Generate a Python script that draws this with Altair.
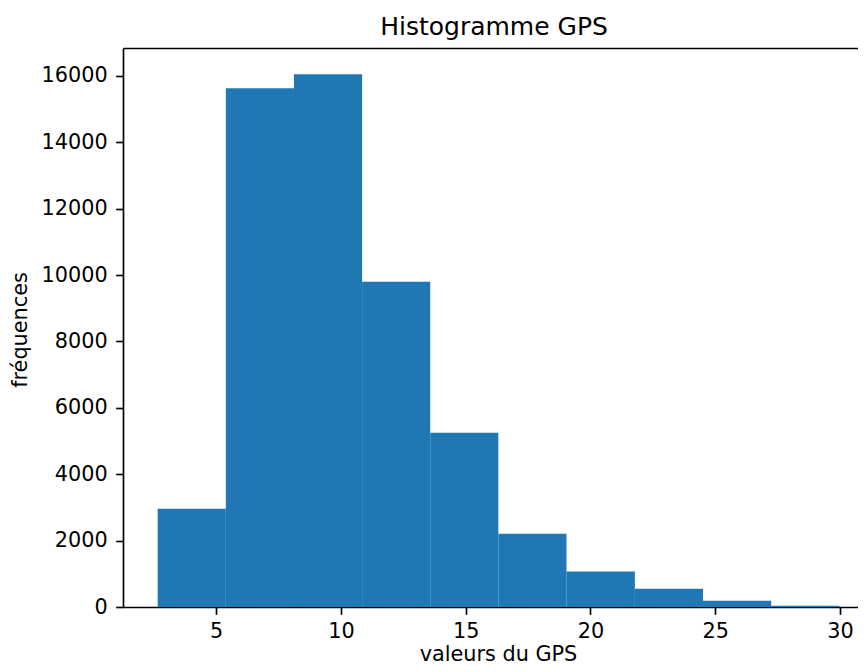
import altair as alt
import pandas as pd

bin_start = [2.66, 5.39, 8.12, 10.85, 13.58, 16.31, 19.04, 21.78, 24.51, 27.24]
bin_end = [5.39, 8.12, 10.85, 13.58, 16.31, 19.04, 21.78, 24.51, 27.24, 29.97]
counts = [2961, 15631, 16052, 9801, 5248, 2207, 1073, 552, 191, 40]

x_ticks = [5, 10, 15, 20, 25, 30]
y_ticks = [0, 2000, 4000, 6000, 8000, 10000, 12000, 14000, 16000]

df = pd.DataFrame({"start": bin_start, "end": bin_end, "count": counts})

FONT = "DejaVu Sans"
W, H = 735, 559
LW = 1.67

x_scale = alt.Scale(domain=[1.27, 30.72], nice=False, zero=False)
y_scale = alt.Scale(domain=[0, 16843], nice=False)

bars = alt.Chart(df).mark_rect(color="#1f77b4").encode(
    x=alt.X("start:Q", scale=x_scale,
            axis=alt.Axis(orient="bottom", values=x_ticks, format="d",
                          tickSize=7.3, tickWidth=LW, tickColor="black",
                          domainWidth=LW, domainColor="black",
                          labelFontSize=20.8, labelFont=FONT, labelColor="black",
                          labelPadding=7.5, grid=False,
                          title="valeurs du GPS", titleFont=FONT, titleFontSize=20.8,
                          titleFontWeight="normal", titleColor="black",
                          titleX=375, titleY=53, titleAlign="center",
                          titleBaseline="alphabetic")),
    x2="end:Q",
    y=alt.Y("count:Q", scale=y_scale,
            axis=alt.Axis(orient="left", values=y_ticks, format="d",
                          tickSize=7.3, tickWidth=LW, tickColor="black",
                          domainWidth=LW, domainColor="black",
                          labelFontSize=20.8, labelFont=FONT, labelColor="black",
                          labelPadding=8.5, grid=False,
                          title="fréquences", titleFont=FONT, titleFontSize=20.8,
                          titleFontWeight="normal", titleColor="black",
                          titleX=-97, titleY=H / 2 + 2, titleAngle=270,
                          titleAlign="center", titleBaseline="alphabetic")),
    y2=alt.datum(0),
)

top = alt.Chart(df).mark_rect(opacity=0).encode(
    x=alt.X("start:Q", scale=x_scale,
            axis=alt.Axis(orient="top", labels=False, ticks=False, title=None,
                          domainWidth=LW, domainColor="black", grid=False)),
    x2="end:Q",
    y=alt.Y("count:Q", scale=y_scale, axis=None),
    y2=alt.datum(0),
)

chart = alt.layer(bars, top).resolve_axis(x="independent", y="independent").properties(
    width=W,
    height=H,
    autosize=alt.AutoSizeParams(type="none"),
    padding={"left": 115, "top": 40, "right": 0, "bottom": 57},
    title=alt.TitleParams("Histogramme GPS", font=FONT, fontSize=25,
                          fontWeight="normal", color="black", anchor="middle",
                          dx=3.5, dy=25, offset=8, baseline="bottom"),
).configure_view(strokeWidth=0).configure(background="white")

chart.save("out.html", embed_options={"renderer": "svg", "actions": False})
